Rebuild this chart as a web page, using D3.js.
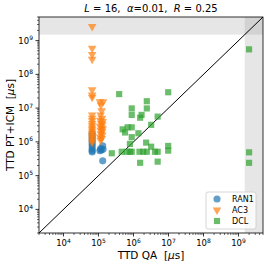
<!DOCTYPE html>
<html>
<head>
<meta charset="utf-8">
<script src="https://cdn.jsdelivr.net/npm/d3@7"></script>
<style>
    body { margin: 0; background: #fff; }
    svg { font-family: "DejaVu Sans", sans-serif; }
    text { white-space: pre; }
</style>
</head>
<body>
<div id="chart"></div>
<script>
// TTD values in microseconds

const ran1X = [6.6e4, 6.6e4, 6.6e4, 6.6e4, 6.6e4, 6.6e4, 6.6e4, 6.6e4, 6.6e4,
    1.1e5, 1.2e5, 1.32e5, 1.35e5, 1.15e5, 1.32e5];
const ran1Y = [1.8e6, 1.5e6, 1.26e6, 1.05e6, 8.9e5, 7.6e5, 6.3e5, 5.5e5, 5.0e5,
    5.5e5, 5.75e5, 7.6e5, 6.0e5, 6.3e5, 2.75e5];

const ac3X = [6.6e4, 6.6e4, 6.6e4, 6.6e4, 6.6e4, 6.6e4, 6.6e4,
    6.6e4, 6.6e4, 6.6e4, 6.6e4, 6.6e4, 6.6e4, 6.6e4, 6.6e4, 6.6e4, 6.6e4, 6.6e4, 6.6e4, 6.6e4,
    1.1e5, 1.35e5, 1.17e5, 1.23e5, 1.15e5, 1.26e5, 1.12e5, 1.32e5, 1.2e5, 1.29e5,
    1.12e5, 1.23e5, 1.32e5, 1.15e5, 1.26e5, 1.17e5, 1.29e5, 1.12e5, 1.23e5, 1.15e5];
const ac3Y = [2.6e9, 5.9e8, 3.9e8, 2.8e8, 3.5e7, 2.45e7, 2.1e7,
    6.3e6, 5.0e6, 4.2e6, 3.5e6, 3.0e6, 2.6e6, 2.3e6, 2.0e6, 1.74e6, 1.5e6, 1.3e6, 1.12e6, 9.5e5,
    1.55e7, 1.55e7, 1.23e7, 8.3e6, 6.3e6, 5.0e6, 4.4e6, 4.0e6, 3.5e6, 3.2e6,
    2.9e6, 2.6e6, 2.4e6, 2.2e6, 2.0e6, 1.74e6, 1.6e6, 1.4e6, 1.26e6, 1.12e6];

const dclX = [3.9e5, 9.8e6, 2.4e6, 8.9e5, 2.4e6, 8.9e5, 1.7e6, 1.55e6, 4.9e6, 3.2e6,
    4.9e5, 6.8e5, 8.9e5, 5.75e5, 1.38e6, 8.9e5, 2.3e6, 7.9e5, 3.2e6, 9.8e6, 9.8e6,
    2.4e5, 4.6e5, 6.5e5, 7.9e5, 8.9e5, 1.48e6, 1.9e6, 2.4e6, 4.1e6, 4.9e6,
    1.55e6, 4.9e6, 2.0e9, 2.0e9, 2.0e9];
const dclY = [2.6e7, 2.95e7, 1.6e7, 9.8e6, 9.8e6, 6.3e6, 6.3e6, 5.2e6, 5.6e6, 3.2e6,
    2.35e6, 2.7e6, 2.7e6, 1.9e6, 1.8e6, 1.38e6, 9.5e5, 8.7e5, 7.2e5, 7.6e5, 5.5e5,
    4.6e5, 5.1e5, 5.1e5, 5.1e5, 5.1e5, 5.1e5, 5.1e5, 5.1e5, 5.1e5, 5.1e5,
    2.4e5, 2.6e5, 5.5e8, 4.9e5, 2.4e5];

const seriesNames = ["RAN1", "AC3", "DCL"];
const seriesColors = ["#1f77b4", "#ff7f0e", "#2ca02c"];
const axisLimits = [2e3, 5e9];
const timeout = 1.5e9;
const tickExps = [4, 5, 6, 7, 8, 9];

const W = 266, H = 267;
const margin = { top: 17, right: 3, bottom: 34, left: 39 };
const width = W - margin.left - margin.right;
const height = H - margin.top - margin.bottom;

const svg = d3.select("#chart").append("svg")
    .attr("width", W)
    .attr("height", H);

const g = svg.append("g")
    .attr("transform", "translate(" + margin.left + "," + margin.top + ")");

const x = d3.scaleLog().domain(axisLimits).range([0, width]);
const y = d3.scaleLog().domain(axisLimits).range([height, 0]);

// timeout bands
g.append("rect")
    .attr("x", 0).attr("y", 0)
    .attr("width", width).attr("height", y(timeout))
    .attr("fill", "#808080").attr("fill-opacity", 0.2);
g.append("rect")
    .attr("x", x(timeout)).attr("y", 0)
    .attr("width", width - x(timeout)).attr("height", height)
    .attr("fill", "#808080").attr("fill-opacity", 0.2);

// diagonal y = x
g.append("line")
    .attr("x1", x(axisLimits[0])).attr("y1", y(axisLimits[0]))
    .attr("x2", x(axisLimits[1])).attr("y2", y(axisLimits[1]))
    .attr("stroke", "#000").attr("stroke-width", 1);

function zip(xs, ys) {
    return xs.map((v, i) => ({ x: v, y: ys[i] }));
}

const sym = [d3.symbolCircle, d3.symbolTriangle, d3.symbolSquare];
const symSize = [40, 32, 38];
const allSeries = [zip(ran1X, ran1Y), zip(ac3X, ac3Y), zip(dclX, dclY)];

allSeries.forEach((data, k) => {
    g.selectAll(".pt" + k)
        .data(data)
        .enter()
        .append("path")
        .attr("class", "pt" + k)
        .attr("d", d3.symbol().type(sym[k]).size(symSize[k]))
        .attr("transform", d => "translate(" + x(d.x) + "," + y(d.y) + ")" + (k === 1 ? " rotate(180)" : ""))
        .attr("fill", seriesColors[k])
        .attr("fill-opacity", 0.7);
});

// minor ticks
const minor = [];
for (let e = 3; e <= 9; e++) {
    for (let m = 2; m <= 9; m++) {
        const v = m * Math.pow(10, e);
        if (v >= axisLimits[0] && v <= axisLimits[1]) minor.push(v);
    }
}

const axisX = g.append("g").attr("transform", "translate(0," + height + ")");
axisX.selectAll(".mn").data(minor).enter().append("line")
    .attr("x1", d => x(d)).attr("x2", d => x(d))
    .attr("y1", 0).attr("y2", 2)
    .attr("stroke", "#000").attr("stroke-width", 0.6);
axisX.selectAll(".mj").data(tickExps).enter().append("line")
    .attr("x1", d => x(Math.pow(10, d))).attr("x2", d => x(Math.pow(10, d)))
    .attr("y1", 0).attr("y2", 3.5)
    .attr("stroke", "#000").attr("stroke-width", 0.8);
const xt = axisX.selectAll(".lb").data(tickExps).enter().append("text")
    .attr("x", d => x(Math.pow(10, d)))
    .attr("y", 13)
    .attr("text-anchor", "middle")
    .attr("font-size", 8.5);
xt.append("tspan").text("10");
xt.append("tspan").attr("dy", -3.5).attr("font-size", 6).text(d => d);

const axisY = g.append("g");
axisY.selectAll(".mn").data(minor).enter().append("line")
    .attr("y1", d => y(d)).attr("y2", d => y(d))
    .attr("x1", 0).attr("x2", -2)
    .attr("stroke", "#000").attr("stroke-width", 0.6);
axisY.selectAll(".mj").data(tickExps).enter().append("line")
    .attr("y1", d => y(Math.pow(10, d))).attr("y2", d => y(Math.pow(10, d)))
    .attr("x1", 0).attr("x2", -3.5)
    .attr("stroke", "#000").attr("stroke-width", 0.8);
const yt = axisY.selectAll(".lb").data(tickExps).enter().append("text")
    .attr("x", -6)
    .attr("y", d => y(Math.pow(10, d)) + 3)
    .attr("text-anchor", "end")
    .attr("font-size", 8.5);
yt.append("tspan").text("10");
yt.append("tspan").attr("dy", -3.5).attr("font-size", 6).text(d => d);

// frame
g.append("rect")
    .attr("width", width).attr("height", height)
    .attr("fill", "none").attr("stroke", "#000").attr("stroke-width", 0.8);

// title
const title = svg.append("text")
    .attr("x", margin.left + width / 2)
    .attr("y", 12)
    .attr("text-anchor", "middle")
    .attr("font-size", 10);
title.append("tspan").attr("font-style", "italic").text("L");
title.append("tspan").text(" = 16,  ");
title.append("tspan").attr("font-style", "italic").text("α");
title.append("tspan").text("=0.01,  ");
title.append("tspan").attr("font-style", "italic").text("R");
title.append("tspan").text(" = 0.25");

// axis labels
const xl = svg.append("text")
    .attr("x", margin.left + width / 2)
    .attr("y", 259)
    .attr("text-anchor", "middle")
    .attr("font-size", 10.5);
xl.append("tspan").text("TTD QA  [");
xl.append("tspan").attr("font-style", "italic").text("μ");
xl.append("tspan").text("s]");

const yl = svg.append("text")
    .attr("transform", "translate(14," + (margin.top + height / 2) + ") rotate(-90)")
    .attr("text-anchor", "middle")
    .attr("font-size", 10.5);
yl.append("tspan").text("TTD PT+ICM  [");
yl.append("tspan").attr("font-style", "italic").text("μ");
yl.append("tspan").text("s]");

// legend
const leg = g.append("g")
    .attr("transform", "translate(" + (width - 57) + "," + (height - 41) + ")");
leg.append("rect")
    .attr("width", 50).attr("height", 37)
    .attr("rx", 2)
    .attr("fill", "#fff").attr("fill-opacity", 0.8)
    .attr("stroke", "#ccc").attr("stroke-width", 0.8);
seriesNames.forEach((name, k) => {
    const row = leg.append("g").attr("transform", "translate(0," + (7 + k * 11) + ")");
    row.append("path")
        .attr("d", d3.symbol().type(sym[k]).size(symSize[k]))
        .attr("transform", "translate(11,0)" + (k === 1 ? " rotate(180)" : ""))
        .attr("fill", seriesColors[k])
        .attr("fill-opacity", 0.7);
    row.append("text")
        .attr("x", 26).attr("y", 3)
        .attr("font-size", 8)
        .text(name);
});
</script>
</body>
</html>
